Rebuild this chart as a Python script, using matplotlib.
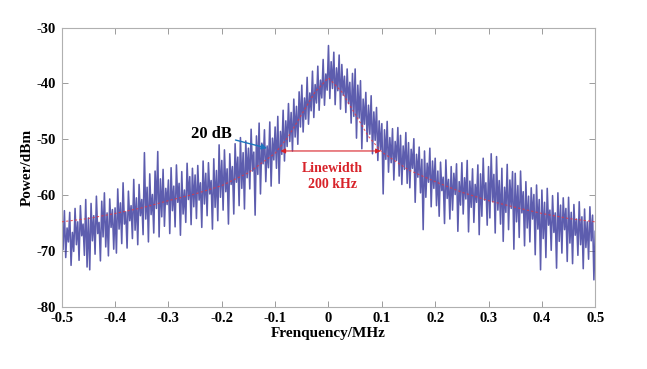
import matplotlib
matplotlib.use("Agg")
import matplotlib.pyplot as plt
import numpy as np

# measured spectrum, 2.5 kHz steps from -0.5 to 0.5 MHz (values in dBm)
freq_start = -0.5
freq_step = 0.0025
power = [
    -64.5, -69.8, -62.8, -71.2, -65.9, -68.4, -63.1, -72.6, -66.7, -70.1, -62.4, -68.9, -64.8, -71.7, -61.9, -67.3, -65.2, -70.8, -60.8, -72.9,
    -64.1, -73.4, -61.5, -68.2, -63.7, -70.6, -60.2, -66.9, -64.9, -71.8, -61.1, -67.5, -59.6, -69.3, -63.2, -70.9, -60.7, -65.8, -62.6, -69.7,
    -62.3, -70.4, -58.9, -66.1, -61.4, -68.7, -57.8, -65.2, -63.0, -69.5, -59.3, -64.6, -61.9, -67.8, -57.2, -66.3, -60.5, -68.9, -58.1, -63.7,
    -60.8, -67.1, -52.4, -64.3, -58.6, -68.4, -56.2, -63.5, -59.9, -66.8, -55.7, -62.4, -52.2, -67.5, -57.1, -63.9, -55.4, -65.6, -58.8, -61.7,
    -57.3, -66.9, -55.1, -62.8, -58.4, -65.7, -54.6, -61.3, -57.9, -67.2, -55.8, -63.4, -59.1, -64.9, -54.3, -60.8, -56.7, -65.3, -55.2, -62.1,
    -56.4, -64.2, -54.7, -60.9, -57.8, -65.8, -53.9, -61.6, -56.1, -63.7, -54.2, -59.8, -57.4, -66.1, -53.5, -62.2, -55.6, -64.6, -51.0, -60.4,
    -53.8, -62.7, -51.9, -59.4, -55.3, -65.2, -52.6, -58.1, -54.9, -63.4, -50.8, -57.7, -53.2, -61.9, -49.7, -58.8, -52.4, -62.5, -50.3, -56.9,
    -51.6, -58.9, -48.2, -55.7, -52.3, -63.6, -49.4, -56.3, -47.1, -59.8, -50.7, -54.4, -48.3, -57.6, -51.2, -55.1, -46.9, -58.4, -49.8, -53.7,
    -47.8, -55.2, -45.9, -57.9, -48.6, -52.7, -44.8, -53.9, -46.7, -51.3, -43.6, -50.4, -45.2, -52.1, -42.8, -49.6, -44.1, -50.9, -41.5, -47.8,
    -40.3, -48.7, -42.6, -46.4, -38.9, -47.3, -41.7, -44.9, -37.8, -46.1, -40.2, -43.5, -36.9, -44.8, -39.4, -42.6, -35.7, -43.9, -38.3, -41.2,
    -33.2, -42.7, -36.1, -40.9, -34.4, -43.8, -37.2, -41.3, -34.9, -44.6, -36.6, -42.1, -38.7, -45.2, -37.4, -43.6, -39.8, -47.1, -38.2, -45.9,
    -37.4, -49.8, -40.3, -46.2, -39.5, -51.7, -42.8, -47.3, -41.6, -50.4, -43.9, -49.1, -42.2, -52.6, -45.1, -50.2, -44.3, -53.8, -46.7, -51.9,
    -47.2, -59.8, -48.3, -53.6, -46.8, -55.9, -49.7, -54.2, -48.1, -57.3, -50.4, -53.8, -47.9, -56.6, -49.3, -58.1, -51.2, -55.4, -48.8, -57.9,
    -50.6, -58.7, -51.8, -55.2, -49.9, -61.3, -52.7, -56.8, -51.4, -59.6, -53.6, -66.2, -52.1, -60.4, -54.3, -57.7, -51.6, -62.1, -53.9, -58.8,
    -53.4, -61.9, -55.7, -63.8, -54.1, -59.2, -56.8, -65.1, -53.7, -60.6, -57.2, -64.3, -54.9, -62.7, -56.1, -59.9, -54.4, -66.5, -57.6, -61.8,
    -54.2, -63.4, -56.9, -60.7, -53.8, -66.6, -57.5, -62.2, -55.3, -64.9, -58.1, -61.3, -54.6, -67.1, -56.2, -63.8, -53.4, -60.9, -57.8, -65.4,
    -54.9, -64.1, -52.6, -61.2, -56.3, -66.8, -53.1, -62.7, -57.4, -65.2, -55.2, -68.3, -58.6, -63.1, -54.5, -66.2, -57.3, -62.4, -55.8, -69.7,
    -56.1, -64.8, -58.3, -67.6, -55.7, -63.2, -59.4, -69.1, -57.6, -65.9, -60.2, -68.4, -58.7, -64.3, -59.9, -70.7, -58.2, -66.1, -60.8, -73.4,
    -59.1, -67.8, -61.3, -71.2, -58.8, -65.4, -62.7, -69.9, -60.1, -66.7, -63.2, -73.1, -59.6, -68.3, -61.8, -70.4, -60.5, -66.2, -62.4, -71.9,
    -60.4, -68.6, -63.1, -72.3, -61.7, -67.2, -64.3, -70.8, -61.2, -68.9, -63.9, -73.2, -62.5, -69.4, -64.8, -71.5, -62.1, -68.2, -63.6, -75.2,
    -66.5,
]

# Lorentzian fit
fit_freq = [-0.5, -0.45, -0.4, -0.35, -0.3, -0.25, -0.2, -0.15, -0.1, -0.075, -0.05, -0.025, 0.0,
            0.025, 0.05, 0.075, 0.1, 0.15, 0.2, 0.25, 0.3, 0.35, 0.4, 0.45, 0.5]
fit_power = [-64.8, -64.2, -63.3, -62.3, -61.0, -59.8, -58.3, -56.0, -52.5, -49.5, -45.5, -41.5, -39.0,
             -41.5, -45.5, -49.5, -52.3, -55.5, -57.6, -59.5, -61.0, -62.2, -63.3, -64.2, -64.8]

linewidth_edges = [-0.09, 0.098]
linewidth_level = -52.1

xticks = [-0.5, -0.4, -0.3, -0.2, -0.1, 0, 0.1, 0.2, 0.3, 0.4, 0.5]
xticklabels = ["-0.5", "-0.4", "-0.3", "-0.2", "-0.1", "0", "0.1", "0.2", "0.3", "0.4", "0.5"]
yticks = [-80, -70, -60, -50, -40, -30]

plt.rcParams["font.family"] = ["Liberation Serif", "DejaVu Serif"]
plt.rcParams["font.weight"] = "bold"
plt.rcParams["axes.unicode_minus"] = False

fig = plt.figure(figsize=(6.47, 3.69), dpi=100)
ax = fig.add_axes([0.0954, 0.169, 0.8246, 0.756])

freq = freq_start + freq_step * np.arange(len(power))
ax.plot(freq, power, color="#34349a", linewidth=1.15, alpha=0.8)
ax.plot(fit_freq, fit_power, color="#e8343c", linewidth=0.8, linestyle=(0, (2, 2)), zorder=3, alpha=0.8)

ax.annotate("", xy=(linewidth_edges[0], linewidth_level), xytext=(linewidth_edges[1], linewidth_level),
            arrowprops=dict(arrowstyle="<|-|>", color="#d8232a", lw=0.8, mutation_scale=7,
                            shrinkA=0, shrinkB=0))
ax.text(0.007, -54.0, "Linewidth\n200 kHz", color="#d8232a", fontsize=10, fontweight="bold",
        ha="center", va="top", linespacing=1.3)

ax.annotate("20 dB", xy=(-0.115, -51.6), xytext=(-0.182, -49.0),
            fontsize=12, fontweight="bold", color="black", ha="right", va="center",
            arrowprops=dict(arrowstyle="-|>", color="#1c75bc", lw=1.0, mutation_scale=8,
                            shrinkA=1, shrinkB=0))

ax.set_xlim(-0.5, 0.5)
ax.set_ylim(-80, -30)
ax.set_xticks(xticks)
ax.set_xticklabels(xticklabels)
ax.set_yticks(yticks)
ax.tick_params(direction="in", length=4, width=0.6, color="#8c8c8c", labelsize=10.5,
               top=True, right=True, labeltop=False, labelright=False, pad=4)
for spine in ax.spines.values():
    spine.set_color("#b0b0b0")
    spine.set_linewidth(0.8)

ax.set_xlabel("Frenquency/MHz", fontsize=11, fontweight="bold", labelpad=1)
ax.set_ylabel("Power/dBm", fontsize=11, fontweight="bold", labelpad=2)

fig.savefig("out.png", dpi=100)
